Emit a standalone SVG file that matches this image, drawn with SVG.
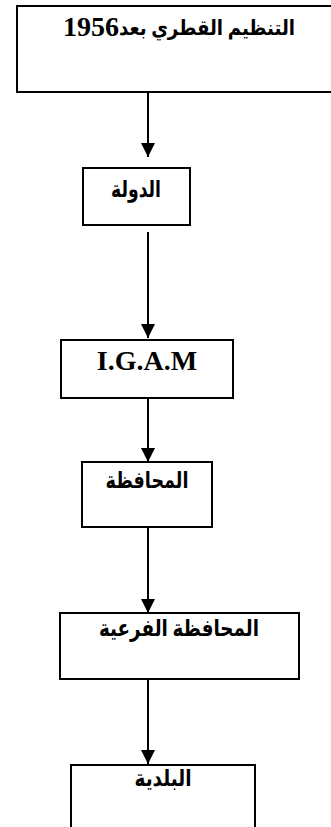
<svg xmlns="http://www.w3.org/2000/svg" width="331" height="827" viewBox="0 0 331 827">
<style>
.box{fill:#fff;stroke:#000;stroke-width:2}
.lbl{font-family:"Liberation Serif","DejaVu Sans",serif;font-weight:bold;font-size:23px;fill:#000;text-anchor:middle}
.edge{stroke:#000;stroke-width:2;fill:none}
</style>
<defs>
<marker id="ah" markerUnits="userSpaceOnUse" markerWidth="16" markerHeight="16" refX="14" refY="8" orient="auto" viewBox="0 0 16 16">
<path d="M0,1 L14,8 L0,15 Z" fill="#000"/>
</marker>
</defs>
<rect width="331" height="827" fill="#fff"/>
<g id="connectors">
<line class="edge" x1="148" y1="92" x2="148" y2="157" marker-end="url(#ah)"/>
<line class="edge" x1="148" y1="232" x2="148" y2="338" marker-end="url(#ah)"/>
<line class="edge" x1="148" y1="398" x2="148" y2="462" marker-end="url(#ah)"/>
<line class="edge" x1="148" y1="527" x2="148" y2="613" marker-end="url(#ah)"/>
<line class="edge" x1="148" y1="679" x2="148" y2="764" marker-end="url(#ah)"/>
</g>
<g id="n1">
<rect class="box" x="17" y="6" width="320" height="86"/>
<text class="lbl" x="63" y="36" style="font-size:28px;text-anchor:start">1956</text>
<text class="lbl" x="207" y="35" style="font-size:21px" textLength="176" lengthAdjust="spacingAndGlyphs">التنظيم القطري بعد</text>
</g>
<g id="n2">
<rect class="box" x="83" y="168" width="107" height="57"/>
<text class="lbl" x="136" y="197" direction="rtl" textLength="50" lengthAdjust="spacingAndGlyphs">الدولة</text>
</g>
<g id="n3">
<rect class="box" x="61" y="340" width="172" height="58"/>
<text class="lbl" x="147" y="370" style="font-size:28px">I.G.A.M</text>
</g>
<g id="n4">
<rect class="box" x="82" y="462" width="130" height="65"/>
<text class="lbl" x="147" y="488" direction="rtl" textLength="83" lengthAdjust="spacingAndGlyphs">المحافظة</text>
</g>
<g id="n5">
<rect class="box" x="60" y="613" width="239" height="66"/>
<text class="lbl" x="179" y="636" direction="rtl" textLength="160" lengthAdjust="spacingAndGlyphs">المحافظة الفرعية</text>
</g>
<g id="n6">
<rect class="box" x="71" y="765" width="184" height="80"/>
<text class="lbl" x="163" y="786" direction="rtl" textLength="57" lengthAdjust="spacingAndGlyphs">البلدية</text>
</g>
</svg>
